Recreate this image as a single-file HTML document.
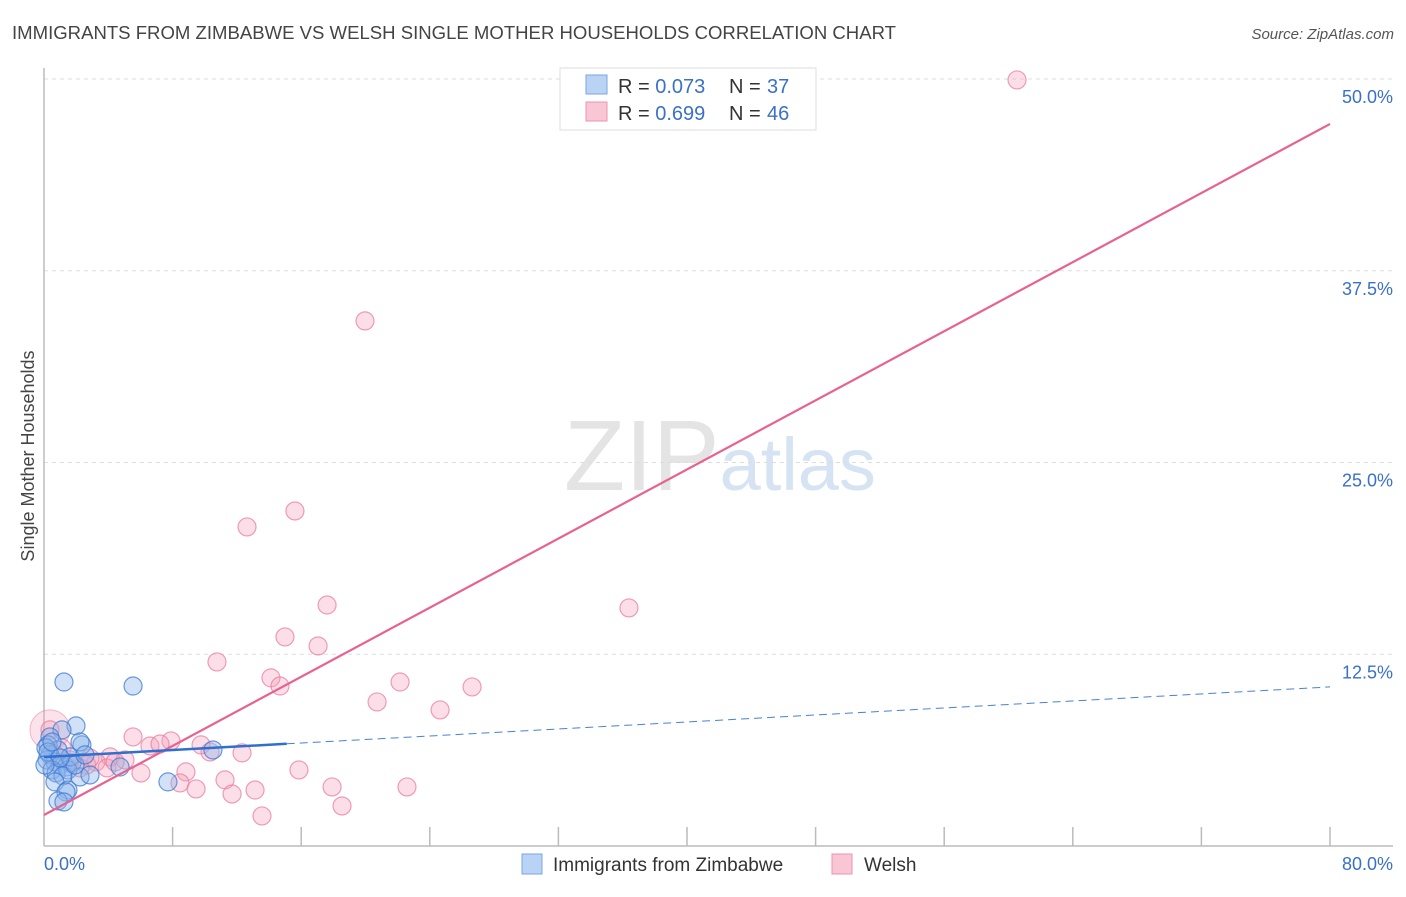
<!DOCTYPE html>
<html><head><meta charset="utf-8"><style>
body{margin:0;background:#fff;font-family:"Liberation Sans",sans-serif;}
svg text{font-family:"Liberation Sans",sans-serif;}
</style></head><body>
<svg id="chart" width="1406" height="892" xmlns="http://www.w3.org/2000/svg">
<text x="12" y="39" font-size="18" fill="#444" textLength="884" lengthAdjust="spacingAndGlyphs">IMMIGRANTS FROM ZIMBABWE VS WELSH SINGLE MOTHER HOUSEHOLDS CORRELATION CHART</text>
<text x="1394" y="39" font-size="15" fill="#555" text-anchor="end" font-style="italic">Source: ZipAtlas.com</text>
<text x="720" y="490" font-size="100" text-anchor="middle" fill="#e4e4e4" font-family="Liberation Serif">ZIP<tspan fill="#d5e3f3" font-family="Liberation Sans" font-size="74">atlas</tspan></text>
<text transform="translate(34,456) rotate(-90)" font-size="18" fill="#444" text-anchor="middle">Single Mother Households</text>
<g id="grid"></g><g id="axes"></g><g id="marks"></g>
<g>
<rect x="560" y="68" width="256" height="62" fill="#fff" stroke="#ddd"/>
<rect x="586" y="75" width="21" height="19" fill="#b9d3f5" stroke="#7aa6e0"/>
<text x="618" y="93" font-size="20" fill="#333">R = <tspan fill="#3a70c9">0.073</tspan></text>
<text x="729" y="93" font-size="20" fill="#333">N = </text>
<text x="767" y="93" font-size="20" fill="#3a70c9">37</text>
<rect x="586" y="102" width="21" height="19" fill="#f9c6d5" stroke="#ef93b0"/>
<text x="618" y="120" font-size="20" fill="#333">R = <tspan fill="#3a70c9">0.699</tspan></text>
<text x="729" y="120" font-size="20" fill="#333">N = </text>
<text x="767" y="120" font-size="20" fill="#3a70c9">46</text>
</g>
<g>
<rect x="522" y="854" width="20" height="20" fill="#b9d3f5" stroke="#7aa6e0"/>
<text x="553" y="871" font-size="19" fill="#333">Immigrants from Zimbabwe</text>
<rect x="832" y="854" width="20" height="20" fill="#f9c6d5" stroke="#ef93b0"/>
<text x="864" y="871" font-size="19" fill="#333">Welsh</text>
</g>
</svg>
<script>
const yTicks=[12.5,25,37.5,50];
const yTickLabels=["12.5%","25.0%","37.5%","50.0%"];
const xTickLabels=["0.0%","80.0%"];
const blueX=[1.24,5.54,1.99,1.12,0.37,0.25,2.36,2.24,0.87,0.37,0.19,0.68,1.00,1.37,1.74,0.50,0.75,1.49,1.18,2.24,0.68,1.49,1.37,0.87,1.24,10.51,4.73,7.71,0.12,0.25,1.62,1.93,2.55,0.50,1.00,0.06,2.86];
const blueY=[10.69,10.43,7.83,7.57,7.11,6.59,6.59,6.78,6.26,5.94,5.61,5.48,5.28,5.15,5.41,4.96,4.76,4.96,4.57,4.50,4.18,3.65,3.52,2.94,2.87,6.26,5.15,4.18,6.39,6.13,5.81,5.28,5.94,6.78,5.74,5.28,4.63];
const pinkX=[60.53,19.97,15.61,12.63,17.61,36.39,14.99,17.05,10.76,14.12,14.68,22.15,26.63,20.72,24.64,5.54,7.90,6.59,7.22,9.77,10.33,12.32,4.11,5.04,3.23,2.67,3.92,6.03,8.83,15.86,8.46,11.26,9.46,13.13,17.92,22.58,11.70,18.54,13.56,0.37,1.12,1.62,2.24,0.68,2.86,4.42];
const pinkY=[49.94,34.23,21.84,20.80,15.71,15.52,13.63,13.04,12.00,10.96,10.43,10.69,10.37,9.39,8.87,7.11,6.85,6.52,6.65,6.59,6.13,6.07,5.81,5.61,5.48,5.28,5.09,4.76,4.83,4.96,4.11,4.31,3.72,3.65,3.85,3.85,3.39,2.61,1.96,7.57,6.39,5.61,5.09,5.94,5.74,5.48];
const pinkFit=[2.02,47.07];
const blueFit=[5.80,10.37];
const blueSolidEnd=15.1;
const NS="http://www.w3.org/2000/svg";
const X0=44,X1=1330,Y0=846,Y1=79;
const sx=v=>X0+v/80*(X1-X0);
const sy=v=>Y0-v/50*(Y0-Y1);
function mk(tag,attrs,parent){const e=document.createElementNS(NS,tag);for(const k in attrs)e.setAttribute(k,attrs[k]);document.getElementById(parent).appendChild(e);return e;}
yTicks.forEach((t,i)=>{
 const g=mk('line',{x1:X0,x2:1393,y1:sy(t),y2:sy(t),stroke:'#ddd','stroke-dasharray':'4,4'},'grid');
 
 
 const l=mk('text',{x:1393,y:sy(t)+24,'font-size':18,fill:'#3a70c9','text-anchor':'end'},'grid');
 l.textContent=yTickLabels[i];
 
 
});
const ax=mk('line',{x1:X0,x2:X0,y1:68,y2:Y0,stroke:'#bbb','stroke-width':1.5},'axes');


const bx=mk('line',{x1:X0,x2:1393,y1:Y0,y2:Y0,stroke:'#bbb','stroke-width':1.5},'axes');


for(let i=1;i<=10;i++){const v=i*8;const t=mk('line',{x1:sx(v),x2:sx(v),y1:827,y2:Y0,stroke:'#bbb','stroke-width':1.5},'axes');
 
 }
const xl0=mk('text',{x:44,y:870,'font-size':18,fill:'#3a70c9'},'axes');xl0.textContent=xTickLabels[0];


const xl1=mk('text',{x:1393,y:870,'font-size':18,fill:'#3a70c9','text-anchor':'end'},'axes');xl1.textContent=xTickLabels[1];


const big=mk('circle',{cx:sx(pinkX[39]),cy:sy(pinkY[39]),r:20,fill:'rgba(244,160,185,0.3)',stroke:'rgba(232,120,155,0.5)'},'marks');


pinkX.forEach((x,i)=>{const c=mk('circle',{cx:sx(x),cy:sy(pinkY[i]),r:9,fill:'rgba(244,160,185,0.35)',stroke:'rgba(232,120,155,0.7)','stroke-width':1.2},'marks');
 
 });
blueX.forEach((x,i)=>{const c=mk('circle',{cx:sx(x),cy:sy(blueY[i]),r:9,fill:'rgba(140,180,235,0.4)',stroke:'rgba(60,120,210,0.75)','stroke-width':1.2},'marks');
 
 });
const pl=mk('line',{x1:sx(0),y1:sy(pinkFit[0]),x2:sx(80),y2:sy(pinkFit[1]),stroke:'#e8628f','stroke-width':2.2},'marks');


const bf=v=>blueFit[0]+(blueFit[1]-blueFit[0])*v/80;
const bl=mk('line',{x1:sx(0),y1:sy(bf(0)),x2:sx(blueSolidEnd),y2:sy(bf(blueSolidEnd)),stroke:'#2f6fd0','stroke-width':2.5},'marks');


const bd=mk('line',{x1:sx(blueSolidEnd),y1:sy(bf(blueSolidEnd)),x2:sx(80),y2:sy(bf(80)),stroke:'#4a80d5','stroke-width':1,'stroke-dasharray':'8,5'},'marks');


</script>
</body></html>
